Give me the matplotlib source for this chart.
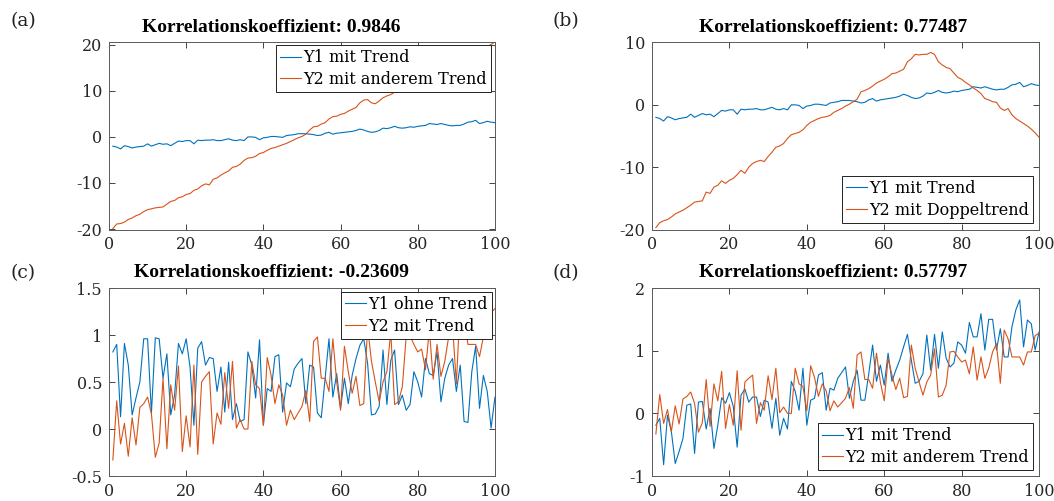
import matplotlib
matplotlib.use("Agg")
import matplotlib.pyplot as plt

plt.rcParams['font.family'] = ['DejaVu Serif']
plt.rcParams['axes.unicode_minus'] = False

x = list(range(1, 101))

# Y1 mit Trend (panels a and b)
y1_trend = [-2.0, -2.2, -2.6, -1.9, -2.1, -2.4, -2.2, -2.1, -2.0, -1.5,
            -2.0, -1.7, -1.4, -1.6, -1.5, -1.9, -1.4, -0.9, -1.0, -0.8,
            -0.8, -1.5, -0.7, -0.8, -0.7, -0.7, -0.6, -0.8, -0.8, -0.6,
            -0.4, -0.7, -0.8, -0.6, -0.8, 0.0, 0.0, -0.1, -0.6, -0.2,
            -0.1, 0.1, 0.1, 0.0, -0.1, 0.3, 0.4, 0.5, 0.7, 0.7,
            0.7, 0.6, 0.5, 0.3, 0.4, 0.8, 1.0, 0.6, 0.8, 0.9,
            1.0, 1.1, 1.2, 1.4, 1.7, 1.5, 1.2, 1.0, 1.1, 1.4,
            1.9, 1.8, 2.0, 2.3, 2.0, 1.9, 2.0, 2.2, 2.1, 2.3,
            2.4, 2.5, 2.9, 2.8, 2.7, 2.9, 2.7, 2.5, 2.4, 2.5,
            2.5, 2.8, 3.2, 3.3, 3.6, 2.9, 3.1, 3.4, 3.2, 3.1]

# Y2 mit anderem Trend (panel a)
y2_anderer = [-19.9, -18.9, -18.8, -18.5, -17.9, -17.6, -17.1, -16.8, -16.2, -15.8,
              -15.6, -15.4, -15.3, -15.2, -14.6, -14.0, -13.8, -13.2, -13.0, -12.5,
              -12.3, -11.6, -11.3, -10.6, -10.2, -10.4, -9.2, -8.9, -8.3, -7.8,
              -7.4, -6.6, -6.4, -5.9, -5.1, -4.6, -4.5, -4.2, -3.6, -3.4,
              -2.9, -2.5, -2.3, -2.0, -1.7, -1.4, -1.0, -0.6, -0.2, 0.1,
              0.6, 1.5, 2.2, 2.3, 2.8, 3.1, 3.9, 4.4, 4.5, 4.9,
              5.1, 5.6, 6.0, 6.4, 7.4, 8.0, 8.1, 7.4, 7.2, 7.8,
              8.5, 8.9, 9.2, 9.7, 10.1, 10.7, 11.0, 11.3, 11.9, 12.2,
              12.5, 13.1, 13.4, 13.7, 14.3, 14.6, 14.9, 15.5, 15.8, 16.1,
              16.7, 17.0, 17.3, 17.9, 18.2, 18.5, 19.2, 19.6, 20.1, 20.6]

# Y2 mit Doppeltrend (panel b)
y2_doppel = [-19.7, -18.9, -18.6, -18.4, -18.0, -17.5, -17.2, -16.9, -16.5, -16.1,
             -15.6, -15.5, -15.4, -14.0, -14.2, -13.2, -12.9, -12.2, -12.6, -12.1,
             -11.8, -11.2, -10.5, -11.0, -10.0, -9.4, -9.1, -8.9, -9.1, -8.3,
             -7.6, -6.8, -6.6, -6.2, -5.4, -4.8, -4.6, -4.4, -4.0, -3.3,
             -2.8, -2.5, -2.2, -2.0, -1.9, -1.7, -1.2, -0.9, -0.6, -0.2,
             0.1, 0.5, 0.9, 2.1, 2.3, 2.6, 3.0, 3.5, 3.8, 4.1,
             4.5, 5.0, 5.1, 5.4, 5.7, 6.9, 7.4, 8.1, 8.0, 8.1,
             8.1, 8.4, 8.1, 6.9, 6.4, 6.0, 5.8, 5.1, 4.4, 4.1,
             3.6, 3.2, 2.7, 2.3, 1.8, 1.0, 0.8, 0.5, 0.4, -0.5,
             -0.9, -0.6, -1.6, -2.2, -2.6, -3.0, -3.4, -3.9, -4.5, -5.2]

# Y1 ohne Trend (panel c)
y1_ohne = [0.82, 0.90, 0.13, 0.91, 0.68, 0.15, 0.33, 0.50, 0.96, 0.96,
           0.17, 0.97, 0.96, 0.54, 0.80, 0.15, 0.36, 0.91, 0.80, 0.96,
           0.66, 0.04, 0.86, 0.93, 0.68, 0.76, 0.75, 0.40, 0.66, 0.18,
           0.71, 0.10, 0.27, 0.08, 0.10, 0.82, 0.68, 0.33, 0.95, 0.04,
           0.43, 0.40, 0.77, 0.79, 0.18, 0.49, 0.45, 0.64, 0.70, 0.75,
           0.27, 0.68, 0.66, 0.17, 0.12, 0.54, 0.96, 0.34, 0.59, 0.22,
           0.54, 0.27, 0.57, 0.75, 0.89, 0.96, 0.70, 0.15, 0.16, 0.24,
           0.84, 0.26, 0.73, 0.84, 0.26, 0.36, 0.20, 0.26, 0.61, 0.50,
           0.34, 0.75, 0.59, 0.57, 0.82, 0.29, 0.54, 0.68, 0.75, 0.40,
           0.68, 0.08, 0.07, 0.61, 0.88, 0.22, 0.57, 0.40, 0.01, 0.34]

# Y2 mit Trend (panels c and d)
y2_trend = [-0.33, 0.30, -0.16, 0.06, -0.29, 0.12, -0.17, 0.23, 0.27, 0.34,
            0.16, -0.30, -0.15, 0.54, -0.21, 0.47, 0.20, 0.67, -0.24, 0.14,
            -0.19, 0.68, -0.27, 0.50, 0.56, 0.61, -0.16, 0.17, 0.05, 0.60,
            0.22, 0.72, 0.01, 0.10, 0.00, 0.00, 0.72, 0.47, 0.43, 0.04,
            0.76, 0.57, 0.27, 0.47, 0.36, 0.04, 0.20, 0.10, 0.17, 0.24,
            0.41, 0.08, 0.93, 0.98, 0.54, 0.54, 0.40, 0.96, 0.50, 0.20,
            0.88, 0.61, 0.38, 0.56, 0.25, 0.27, 1.09, 0.72, 0.50, 0.29,
            0.50, 0.61, 1.03, 0.26, 0.29, 0.45, 0.98, 0.99, 0.90, 0.82,
            0.85, 0.63, 1.06, 0.53, 0.90, 0.56, 0.72, 0.98, 1.11, 0.48,
            1.33, 1.19, 0.90, 0.90, 0.90, 0.77, 0.98, 0.98, 1.24, 1.28]

# Y1 mit Trend (panel d)
y1_trend_d = [-0.19, -0.08, -0.82, -0.03, -0.29, -0.80, -0.61, -0.40, 0.13, 0.15,
              -0.64, 0.18, 0.19, -0.25, 0.08, -0.56, -0.19, 0.25, 0.16, 0.33,
              0.11, -0.54, 0.29, 0.39, 0.18, 0.26, 0.26, -0.05, 0.21, 0.18,
              -0.24, 0.24, -0.35, -0.08, -0.25, 0.51, 0.35, 0.05, 0.72, -0.19,
              0.21, 0.24, 0.61, 0.65, 0.05, 0.40, 0.37, 0.56, 0.65, 0.74,
              0.24, 0.51, 0.69, 0.21, 0.21, 0.63, 1.09, 0.51, 0.77, 0.45,
              0.96, 0.51, 0.69, 0.85, 1.06, 1.26, 0.85, 0.48, 0.51, 0.63,
              1.25, 0.69, 1.26, 0.72, 1.30, 0.88, 0.74, 0.80, 1.14, 1.09,
              0.96, 1.45, 1.22, 1.22, 1.59, 1.01, 1.50, 1.50, 1.01, 1.35,
              0.90, 0.90, 1.38, 1.65, 1.81, 1.06, 1.49, 1.43, 1.01, 1.30]

korr = ['0.9846', '0.77487', '-0.23609', '0.57797']
panel_tags = ['(a)', '(b)', '(c)', '(d)']

blue = '#0072BD'
orange = '#D95319'
axcol = '#262626'

fig = plt.figure(figsize=(10.54, 5.01), dpi=100)

# [left, bottom, width, height] in figure fraction
rects = [[0.1034, 0.5419, 0.3662, 0.3733],
         [0.6186, 0.5419, 0.3672, 0.3733],
         [0.1034, 0.0499, 0.3662, 0.3752],
         [0.6186, 0.0499, 0.3672, 0.3752]]

panels = [
    (y1_trend, y2_anderer, 'Y1 mit Trend', 'Y2 mit anderem Trend', (-20.1, 20.5), [-20, -10, 0, 10, 20], ['-20', '-10', '0', '10', '20'], 'upper right', (0.99, 0.985), 0.42),
    (y1_trend, y2_doppel, 'Y1 mit Trend', 'Y2 mit Doppeltrend', (-20, 10), [-20, -10, 0, 10], ['-20', '-10', '0', '10'], 'lower right', (0.985, 0.037), 0.468),
    (y1_ohne, y2_trend, 'Y1 ohne Trend', 'Y2 mit Trend', (-0.5, 1.5), [-0.5, 0, 0.5, 1, 1.5], ['-0.5', '0', '0.5', '1', '1.5'], 'upper right', (0.992, 0.979), 0.422),
    (y1_trend_d, y2_trend, 'Y1 mit Trend', 'Y2 mit anderem Trend', (-1, 2), [-1, 0, 1, 2], ['-1', '0', '1', '2'], 'lower right', (0.985, 0.032), 0.468),
]

tag_pos = [(0.022, 0.958), (0.537, 0.958), (0.022, 0.455), (0.537, 0.455)]

for i, (ya, yb, la, lb, ylim, yt, ytl, loc, anchor, tx) in enumerate(panels):
    ax = fig.add_axes(rects[i])
    ax.plot(x, ya, color=blue, lw=0.8, label=la)
    ax.plot(x, yb, color=orange, lw=0.8, label=lb)
    ax.set_xlim(0, 100)
    ax.set_ylim(*ylim)
    ax.set_xticks([0, 20, 40, 60, 80, 100])
    ax.set_yticks(yt)
    ax.set_yticklabels(ytl)
    ax.tick_params(direction='in', length=4, width=0.6, colors=axcol,
                   labelsize=11.5, top=True, right=True, pad=5)
    for s in ax.spines.values():
        s.set_color('#5a5a5a')
        s.set_linewidth(0.7)
    ax.text(tx, 1.058, 'Korrelationskoeffizient: ' + korr[i], transform=ax.transAxes,
            ha='center', va='baseline', fontsize=14, fontweight='bold', color='black',
            family='Liberation Serif')
    leg = ax.legend(loc=loc, bbox_to_anchor=anchor, borderaxespad=0, fontsize=11.5,
                    fancybox=False, framealpha=1, edgecolor='#222222',
                    handlelength=1.3, handletextpad=0.15, borderpad=0.25,
                    labelspacing=0.3)
    leg.get_frame().set_linewidth(0.7)
    fig.text(tag_pos[i][0], tag_pos[i][1], panel_tags[i], ha='center', va='center',
             fontsize=13.5, color='#222222')

fig.savefig('out.png', dpi=100)
